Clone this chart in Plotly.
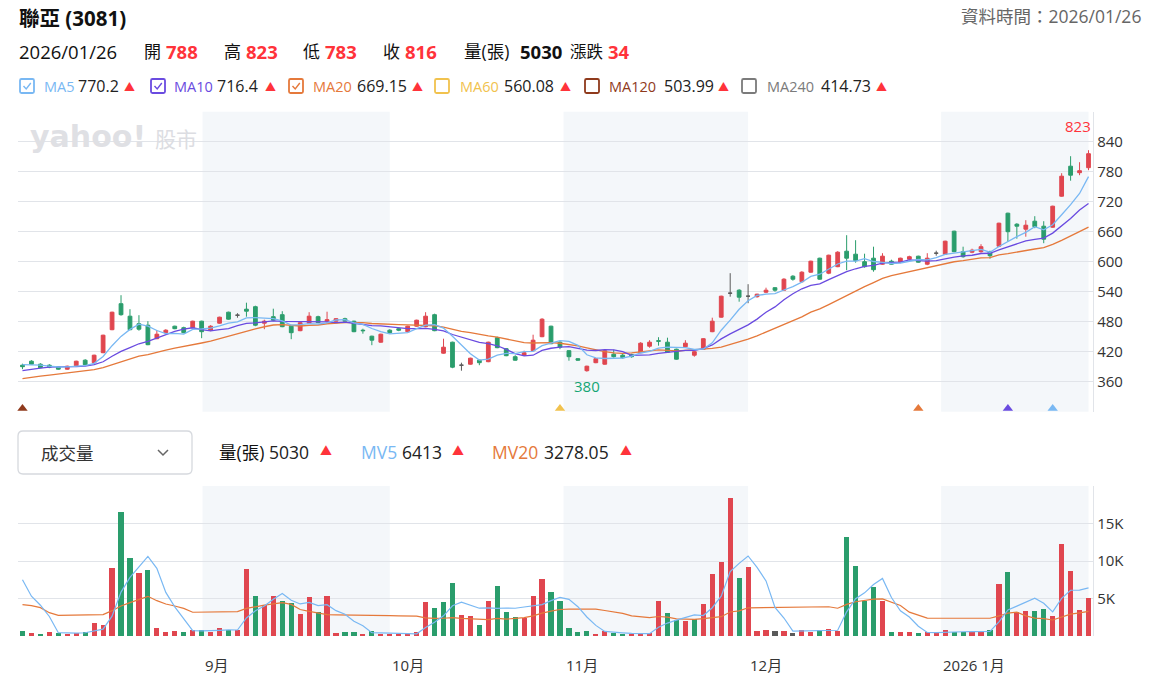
import plotly.graph_objects as go

W, H = 1156, 692

# ---------------- data ----------------
opens = [393, 401, 395, 393, 390, 385, 392, 403, 398, 418,
         464, 516, 491, 476, 473, 446, 458, 471, 468, 468,
         481, 463, 477, 499, 493, 505, 510, 477, 490, 494,
         471, 462, 477, 490, 481, 481, 486, 481, 463, 451,
         439, 463, 466, 460, 471, 470, 494, 417, 439, 393,
         395, 403, 400, 448, 426, 410, 413, 422, 450, 471,
         439, 422, 406, 382, 398, 395, 415, 413, 414, 418,
         431, 442, 439, 425, 430, 413, 425, 460, 489, 537,
         543, 531, 530, 539, 548, 543, 571, 560, 579, 607,
         577, 590, 621, 615, 600, 607, 595, 601, 599, 605,
         611, 595, 617, 615, 661, 620, 619, 620, 620, 631,
         697, 675, 665, 681, 671, 669, 731, 791, 778, 788]
highs = [396, 403, 397, 395, 391, 392, 402, 405, 414, 454,
         500, 533, 505, 493, 481, 463, 465, 472, 470, 482,
         482, 473, 490, 500, 497, 518, 512, 484, 506, 501,
         473, 479, 499, 492, 500, 487, 488, 482, 466, 452,
         456, 465, 468, 472, 484, 499, 496, 446, 440, 398,
         408, 404, 440, 450, 427, 413, 422, 454, 487, 472,
         441, 423, 407, 392, 407, 423, 424, 416, 416, 439,
         443, 449, 448, 426, 443, 421, 447, 488, 532, 577,
         545, 555, 536, 548, 549, 567, 573, 581, 602, 608,
         614, 621, 653, 643, 616, 630, 617, 604, 608, 612,
         612, 617, 622, 642, 662, 630, 626, 635, 622, 678,
         698, 677, 683, 691, 681, 712, 777, 811, 799, 823]
lows = [385, 394, 387, 387, 384, 384, 391, 393, 397, 417,
        463, 492, 463, 462, 433, 445, 457, 465, 457, 467,
        447, 461, 476, 484, 488, 490, 471, 465, 481, 469,
        445, 461, 476, 477, 478, 480, 480, 459, 456, 433,
        438, 456, 461, 459, 470, 469, 461, 416, 387, 382,
        394, 393, 399, 427, 411, 402, 412, 421, 449, 435,
        425, 402, 402, 380, 397, 394, 408, 406, 408, 417,
        428, 432, 418, 404, 429, 410, 424, 459, 488, 530,
        520, 517, 528, 537, 540, 542, 562, 558, 578, 564,
        575, 589, 583, 598, 588, 580, 594, 594, 597, 603,
        598, 593, 612, 614, 619, 608, 617, 618, 606, 629,
        640, 646, 650, 667, 637, 668, 730, 762, 773, 783]
closes = [390, 395, 388, 389, 385, 391, 401, 394, 413, 453,
          499, 494, 464, 465, 434, 455, 463, 466, 458, 481,
          460, 471, 489, 485, 493, 501, 473, 481, 483, 470,
          458, 478, 491, 478, 484, 486, 481, 460, 462, 443,
          455, 458, 463, 471, 483, 491, 462, 429, 389, 393,
          407, 398, 439, 428, 412, 403, 418, 443, 485, 436,
          429, 410, 403, 391, 406, 422, 410, 408, 410, 437,
          439, 441, 419, 405, 437, 420, 446, 481, 531, 537,
          529, 531, 535, 543, 543, 565, 565, 579, 601, 565,
          613, 619, 607, 602, 590, 584, 611, 595, 607, 610,
          599, 607, 617, 641, 620, 610, 623, 630, 612, 677,
          660, 671, 673, 670, 645, 711, 771, 773, 782, 816]

ma5 = [394, 394, 393, 391, 389.4, 389.6, 390.8, 392.0, 396.8, 410.4,
       432.0, 450.6, 464.6, 475.0, 471.2, 462.4, 456.2, 456.6, 455.2, 464.6,
       465.6, 467.2, 471.8, 477.2, 479.6, 487.8, 488.2, 486.6, 486.2, 481.6,
       473.0, 474.0, 476.0, 475.0, 477.8, 483.4, 484.0, 477.8, 474.6, 466.4,
       460.2, 455.6, 456.2, 458.0, 466.0, 473.2, 474.0, 467.2, 450.8, 432.8,
       416.0, 403.2, 405.2, 413.0, 416.8, 416.0, 420.0, 420.8, 432.2, 437.0,
       442.2, 440.6, 432.6, 413.8, 407.8, 406.4, 406.4, 407.4, 411.2, 417.4,
       420.8, 427.0, 429.2, 428.2, 428.2, 424.4, 425.4, 437.8, 463.0, 483.0,
       504.8, 521.8, 532.6, 535.0, 536.2, 543.4, 550.2, 559.0, 570.6, 575.0,
       584.6, 595.4, 601.0, 601.2, 606.2, 600.4, 598.8, 596.4, 597.4, 601.4,
       604.4, 603.6, 608.0, 614.8, 616.8, 619.0, 622.2, 624.8, 619.0, 630.4,
       640.4, 650.0, 658.6, 670.2, 663.8, 674.0, 694.0, 714.0, 736.4, 770.2]
ma10 = [382, 385, 387, 389, 390, 390, 390, 391, 394, 399.9,
        410.8, 420.7, 428.3, 435.9, 440.8, 447.2, 453.4, 460.6, 465.1, 467.9,
        464.0, 461.7, 464.2, 466.2, 472.1, 476.7, 477.7, 479.2, 481.7, 480.6,
        480.4, 481.1, 481.3, 480.6, 479.7, 478.2, 479.0, 476.9, 474.8, 472.1,
        471.8, 469.8, 467.0, 466.3, 466.2, 466.7, 464.8, 461.7, 454.4, 449.4,
        444.6, 438.6, 436.2, 431.9, 424.8, 416.0, 411.6, 413.0, 422.6, 426.9,
        429.1, 430.3, 426.7, 423.0, 422.4, 424.3, 423.5, 420.0, 412.5, 412.6,
        413.6, 416.7, 418.3, 419.7, 422.8, 422.6, 426.2, 433.5, 445.6, 455.6,
        464.6, 473.6, 485.2, 499.0, 509.6, 524.1, 536.0, 545.8, 552.8, 555.6,
        564.0, 572.8, 580.0, 585.9, 590.6, 592.5, 597.1, 598.7, 599.3, 603.8,
        602.4, 601.2, 602.2, 606.1, 609.1, 611.7, 612.9, 616.4, 616.9, 623.6,
        629.7, 636.1, 641.7, 644.6, 647.1, 657.2, 672.0, 686.3, 703.3, 716.4]
ma20 = [366, 369, 371, 373, 375, 377, 379, 381, 384, 388,
        394, 400, 406, 411, 414, 419, 423, 427, 430, 433.9,
        437.4, 441.2, 446.3, 451.1, 456.5, 462.0, 465.6, 469.9, 473.4, 474.3,
        472.2, 471.4, 472.8, 473.4, 475.9, 477.5, 478.4, 478.1, 478.3, 476.4,
        476.1, 475.5, 474.2, 473.5, 473.0, 472.5, 471.9, 469.3, 464.6, 460.8,
        458.2, 454.2, 451.6, 449.1, 445.5, 441.4, 438.2, 437.4, 438.5, 438.2,
        436.9, 434.5, 431.5, 427.5, 423.6, 420.2, 417.6, 416.5, 417.6, 419.8,
        421.4, 423.5, 422.5, 421.4, 422.6, 423.5, 424.9, 426.8, 429.1, 434.1,
        439.1, 445.2, 451.8, 459.4, 466.2, 473.4, 481.1, 489.7, 499.2, 505.6,
        514.3, 523.2, 532.6, 542.5, 550.1, 558.3, 566.6, 572.3, 576.1, 579.7,
        583.2, 587.0, 591.1, 596.0, 599.9, 602.1, 605.0, 607.6, 608.1, 613.7,
        616.1, 618.7, 622.0, 625.4, 628.1, 634.5, 642.5, 651.4, 660.1, 669.15]

volume = [670, 360, 310, 490, 360, 310, 440, 580, 1690, 1510,
          9020, 16490, 10360, 8360, 8840, 1020, 490, 670, 490, 850,
          860, 530, 1020, 800, 800, 8890, 5330, 4130, 5330, 4670,
          4360, 2870, 5180, 3160, 5330, 360, 490, 490, 220, 670,
          220, 220, 270, 270, 490, 4490, 3690, 4490, 7020, 2840,
          2670, 1510, 4670, 6670, 3160, 2490, 2360, 5330, 7560, 5820,
          4670, 1020, 490, 670, 220, 670, 360, 220, 220, 360,
          360, 4670, 3020, 2180, 2000, 2220, 4220, 8220, 9910, 18360,
          7690, 9160, 670, 840, 670, 670, 360, 840, 580, 840,
          890, 670, 13160, 9330, 4710, 6490, 4670, 490, 490, 490,
          360, 490, 360, 840, 580, 580, 580, 580, 800, 6890,
          8490, 3160, 3330, 3330, 3560, 2670, 12220, 8710, 3440, 5030]
# direction of close vs previous close: r = up, g = down, n = flat
vol_dir = ("grgrgrrgrr" "rggrgrrrgr" "grrgrrgrrg" "grrgrrggrg"
           "rrrrrrgggr" "rgrgggrrrg" "ggggrrggrr" "rrggrgrrrr"
           "grrrnrnrrg" "rrggggrgrr" "grrrggrrgr" "grrggrrrrr")
mv5 = [7500, 5300, 4100, 2600, 438, 366, 382, 436, 676, 906,
       2648, 5858, 7814, 9148, 10614, 9014, 5814, 3876, 2302, 704,
       672, 680, 750, 812, 802, 2408, 3368, 3990, 4896, 5670,
       4764, 4272, 4482, 4048, 4180, 3380, 2904, 1966, 1378, 446,
       418, 364, 320, 330, 294, 1148, 1842, 2686, 4036, 4506,
       4142, 3706, 3742, 3672, 3736, 3700, 3870, 4002, 4180, 4712,
       5148, 4880, 3912, 2534, 1414, 614, 482, 428, 338, 366,
       304, 1166, 1726, 2118, 2446, 2818, 2728, 3768, 5314, 8586,
       9680, 10668, 9158, 7344, 3806, 2402, 642, 676, 624, 658,
       702, 764, 3228, 4978, 5752, 6872, 7672, 5138, 3370, 2526,
       1300, 464, 438, 508, 526, 570, 588, 632, 624, 1886,
       3468, 3984, 4534, 5040, 4374, 3210, 5022, 6098, 6120, 6413]
mv20 = [4180, 4044, 3778, 3111, 2755, 2755, 2755, 2755, 2800, 2844,
        3378, 4000, 4444, 4889, 5289, 4711, 4267, 4000, 3689, 3166,
        3175, 3184, 3219, 3235, 3257, 3686, 3930, 4108, 4290, 4448,
        4215, 3534, 3275, 3015, 2839, 2806, 2806, 2797, 2784, 2775,
        2743, 2727, 2690, 2663, 2648, 2428, 2346, 2364, 2448, 2357,
        2272, 2204, 2179, 2354, 2246, 2352, 2446, 2688, 3055, 3312,
        3535, 3575, 3586, 3606, 3592, 3401, 3235, 3021, 2681, 2557,
        2442, 2600, 2517, 2293, 2235, 2221, 2314, 2459, 2576, 3203,
        3354, 3761, 3770, 3779, 3801, 3801, 3801, 3832, 3850, 3874,
        3901, 3701, 4208, 4565, 4701, 4914, 4937, 4550, 4079, 3186,
        2819, 2386, 2370, 2370, 2366, 2361, 2372, 2359, 2370, 2673,
        3053, 3177, 2686, 2386, 2328, 2137, 2515, 2926, 3073, 3278.05]

month_labels = ["9月", "10月", "11月", "12月", "2026 1月"]
month_starts = [20.1, 41.0, 60.4, 81.0, 102.55]
shaded_months = [(20.1, 41.0), (60.4, 81.0), (102.55, 119.0)]
price_ticks = [360, 420, 480, 540, 600, 660, 720, 780, 840]
vol_ticks = [5000, 10000, 15000]
vol_tick_text = ["5K", "10K", "15K"]
cross_idx = [0, 60, 100, 110, 115]
cross_names = ["MA120", "MA60", "MA20", "MA10", "MA5"]
max_label, min_label = "823", "380"
max_idx, min_idx = 119, 63

# ---------------- styles ----------------
RED = "#e0464f"
GREEN = "#2a9d6c"
GREY = "#5a5a5a"
UPTXT = "#ff333a"
C_MA5 = "#79b8f3"
C_MA10 = "#6a4be0"
C_MA20 = "#e5793b"
C_MA60 = "#f1c24e"
C_MA120 = "#8f3a1c"
C_MA240 = "#7b7b7b"
GRID = "#e1e4e9"
BAND = "#f4f7fa"
FONT = "Open Sans, Noto Sans CJK TC, sans-serif"
ma_color = {"MA5": C_MA5, "MA10": C_MA10, "MA20": C_MA20, "MA60": C_MA60,
            "MA120": C_MA120, "MA240": C_MA240}

n = len(closes)
idx = list(range(n))

def PX(x):
    return x / W

def PY(y):
    return 1 - y / H

fig = go.Figure()

# candles
reg = [i for i in idx if opens[i] != closes[i]]
doj = [i for i in idx if opens[i] == closes[i]]
fig.add_trace(go.Candlestick(
    x=reg, open=[opens[i] for i in reg], high=[highs[i] for i in reg],
    low=[lows[i] for i in reg], close=[closes[i] for i in reg],
    increasing=dict(line=dict(color=RED, width=1), fillcolor=RED),
    decreasing=dict(line=dict(color=GREEN, width=1), fillcolor=GREEN),
    whiskerwidth=0, hoverinfo="skip", xaxis="x", yaxis="y"))
fig.add_trace(go.Candlestick(
    x=doj, open=[opens[i] for i in doj], high=[highs[i] for i in doj],
    low=[lows[i] for i in doj], close=[closes[i] for i in doj],
    increasing=dict(line=dict(color=GREY, width=1), fillcolor=GREY),
    decreasing=dict(line=dict(color=GREY, width=1), fillcolor=GREY),
    whiskerwidth=0, hoverinfo="skip", xaxis="x", yaxis="y"))

for arr, col in [(ma20, C_MA20), (ma10, C_MA10), (ma5, C_MA5)]:
    fig.add_trace(go.Scatter(x=idx, y=arr, mode="lines",
                             line=dict(color=col, width=1.3),
                             hoverinfo="skip", xaxis="x", yaxis="y"))

fig.add_trace(go.Scatter(
    x=cross_idx, y=[306.5] * len(cross_idx), mode="markers",
    marker=dict(symbol="triangle-up", size=9,
                color=[ma_color[k] for k in cross_names]),
    cliponaxis=False, hoverinfo="skip", xaxis="x", yaxis="y"))

# volume
dcol = {"r": RED, "g": GREEN, "n": GREY}
fig.add_trace(go.Bar(x=idx, y=volume, width=0.58,
                     marker=dict(color=[dcol[c] for c in vol_dir], line=dict(width=0)),
                     hoverinfo="skip", xaxis="x2", yaxis="y2"))
fig.add_trace(go.Scatter(x=idx, y=mv20, mode="lines", line=dict(color=C_MA20, width=1.2),
                         hoverinfo="skip", xaxis="x2", yaxis="y2"))
fig.add_trace(go.Scatter(x=idx, y=mv5, mode="lines", line=dict(color=C_MA5, width=1.2),
                         hoverinfo="skip", xaxis="x2", yaxis="y2"))

# ---------------- shapes ----------------
shapes = []
for a, b in shaded_months:
    shapes.append(dict(type="rect", xref="x", yref="y domain", x0=a, x1=b, y0=0, y1=1,
                       fillcolor=BAND, line=dict(width=0), layer="below"))
    shapes.append(dict(type="rect", xref="x2", yref="y2 domain", x0=a, x1=b, y0=0, y1=1,
                       fillcolor=BAND, line=dict(width=0), layer="below"))

def rrect(x0, y0, x1, y1, r, color, width, fill="white"):
    ax, ay = r / W, r / H
    X0, X1, Y0, Y1 = PX(x0), PX(x1), PY(y1), PY(y0)
    p = (f"M {X0+ax},{Y0} L {X1-ax},{Y0} Q {X1},{Y0} {X1},{Y0+ay} "
         f"L {X1},{Y1-ay} Q {X1},{Y1} {X1-ax},{Y1} L {X0+ax},{Y1} "
         f"Q {X0},{Y1} {X0},{Y1-ay} L {X0},{Y0+ay} Q {X0},{Y0} {X0+ax},{Y0} Z")
    return dict(type="path", xref="paper", yref="paper", path=p,
                line=dict(color=color, width=width), fillcolor=fill, layer="above")

def polyline(pts, color, width):
    p = "M " + " L ".join(f"{PX(x)},{PY(y)}" for x, y in pts)
    return dict(type="path", xref="paper", yref="paper", path=p,
                line=dict(color=color, width=width), layer="above")

# legend checkboxes
legend_items = [  # name, value, checkbox x, name x, value x, arrow x, checked
    ("MA5", "770.2", 20, 42, 76, 122, True),
    ("MA10", "716.4", 151, 172, 215, 263, True),
    ("MA20", "669.15", 289, 311, 355, 410, True),
    ("MA60", "560.08", 435, 458, 502, 558, False),
    ("MA120", "503.99", 585, 607, 662, 716, False),
    ("MA240", "414.73", 742, 765, 819, 874, False),
]
for name, val, cbx, nx, vx, ax_, chk in legend_items:
    col = ma_color[name]
    shapes.append(rrect(cbx, 79, cbx + 14, 93, 1.5, col, 1.8))
    if chk:
        shapes.append(polyline([(cbx + 3.5, 86), (cbx + 6.2, 89), (cbx + 10.8, 83)], col, 1.4))

# dropdown
shapes.append(rrect(18, 431, 192, 474, 5, "#d6d9de", 1.3))
shapes.append(polyline([(158, 450), (163, 455), (168, 450)], "#666666", 1.5))

# ---------------- annotations ----------------
ann = []

def T(x, y, s, size=15, color="#333333", anchor="left", family=FONT):
    ann.append(dict(x=PX(x), y=PY(y), xref="paper", yref="paper", text=s, showarrow=False,
                    xanchor=anchor, yanchor="middle",
                    font=dict(size=size, color=color, family=family)))

T(17, 18, "<b>聯亞 (3081)</b>", 20.5, "#111111")
T(1143, 16, "資料時間：2026/01/26", 17.5, "#666666", anchor="right")

T(17, 51, "2026/01/26", 18.5, "#111111")
for lab, val, lx, vx in [("開", "788", 142, 164), ("高", "823", 222, 244),
                         ("低", "783", 301, 323), ("收", "816", 381, 403)]:
    T(lx, 51, lab, 17, "#111111")
    T(vx, 51, f"<b>{val}</b>", 18.5, UPTXT)
T(462, 51, "量(張)", 17.5, "#111111")
T(518, 51, "<b>5030</b>", 18.5, "#111111")
T(568, 51, "漲跌", 16.5, "#111111")
T(606, 51, "<b>34</b>", 18.5, UPTXT)

for name, val, cbx, nx, vx, ax_, chk in legend_items:
    T(nx, 86, name, 14.5, ma_color[name])
    T(vx, 86, val, 16, "#222222")
    T(ax_, 86, "▲", 11, UPTXT)

T(39, 453, "成交量", 17.5, "#333333")
T(217, 452, "量(張)", 17.5, "#111111")
T(267, 452, "5030", 17.5, "#222222")
T(318, 452, "▲", 12, UPTXT)
T(359, 452, "MV5", 17.5, C_MA5)
T(400, 452, "6413", 17.5, "#222222")
T(450, 452, "▲", 12, UPTXT)
T(490, 452, "MV20", 17.5, C_MA20)
T(542, 452, "3278.05", 17.5, "#222222")
T(618, 452, "▲", 12, UPTXT)

# watermark
T(28, 137, "<b>yahoo!</b>", 30, "#dfe0e4", family="DejaVu Sans, sans-serif")
T(153, 139, "股市", 21, "#dcdde2")

# month labels under volume pane
for lab, pos in zip(month_labels, month_starts):
    ann.append(dict(x=pos, y=PY(665), xref="x2", yref="paper", text=lab, showarrow=False,
                    xanchor="left", yanchor="middle", font=dict(size=15, color="#333333")))

# extreme labels
ann.append(dict(x=max_idx + 0.5, y=871, xref="x", yref="y", text=max_label, showarrow=False,
                xanchor="right", yanchor="middle", font=dict(size=15, color=UPTXT)))
ann.append(dict(x=min_idx, y=351, xref="x", yref="y", text=min_label, showarrow=False,
                xanchor="center", yanchor="middle", font=dict(size=15, color="#14a574")))

# ---------------- layout ----------------
xdom = [PX(18), PX(1093)]
fig.update_layout(
    width=W, height=H, margin=dict(l=0, r=0, t=0, b=0),
    paper_bgcolor="white", plot_bgcolor="white", showlegend=False,
    font=dict(family=FONT, color="#333333"), boxgap=0.4, bargap=0,
    shapes=shapes, annotations=ann, hovermode=False,
    xaxis=dict(domain=xdom, range=[-0.5, 119.5], showgrid=False, zeroline=False,
               showticklabels=False, ticks="", rangeslider=dict(visible=False),
               anchor="y", fixedrange=True),
    yaxis=dict(domain=[PY(411.7), PY(111.7)], range=[300, 900], side="right",
               tickvals=[300] + price_ticks + [900],
               ticktext=[""] + [str(v) for v in price_ticks] + [""],
               showgrid=True, gridcolor=GRID, gridwidth=1.3, zeroline=False,
               showline=True, linecolor=GRID, linewidth=1.3, ticks="",
               tickfont=dict(size=15, color="#333333"), anchor="x", automargin=False,
               fixedrange=True),
    xaxis2=dict(domain=xdom, range=[-0.5, 119.5], showgrid=False, zeroline=False,
                showticklabels=False, ticks="", anchor="y2", fixedrange=True),
    yaxis2=dict(domain=[PY(636), PY(486)], range=[0, 20000], side="right",
                tickvals=[0] + vol_ticks + [20000],
                ticktext=[""] + vol_tick_text + [""],
                showgrid=True, gridcolor=GRID, gridwidth=1.3, zeroline=False,
                showline=True, linecolor=GRID, linewidth=1.3, ticks="",
                tickfont=dict(size=15, color="#333333"), anchor="x2", automargin=False,
                fixedrange=True),
)

fig.write_html("out.html")
